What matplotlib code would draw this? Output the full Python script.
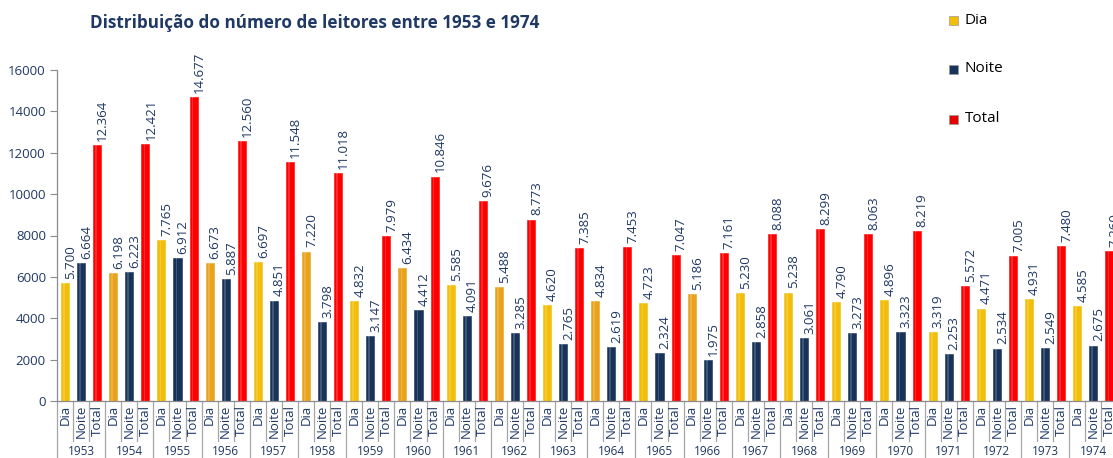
import matplotlib
matplotlib.use("Agg")
import matplotlib.pyplot as plt
from matplotlib.patches import Rectangle
import numpy as np

years = [str(y) for y in range(1953, 1975)]
series_names = ["Dia", "Noite", "Total"]
dia = [5700, 6198, 7765, 6673, 6697, 7220, 4832, 6434, 5585, 5488, 4620,
       4834, 4723, 5186, 5230, 5238, 4790, 4896, 3319, 4471, 4931, 4585]
noite = [6664, 6223, 6912, 5887, 4851, 3798, 3147, 4412, 4091, 3285, 2765,
         2619, 2324, 1975, 2858, 3061, 3273, 3323, 2253, 2534, 2549, 2675]
total = [12364, 12421, 14677, 12560, 11548, 11018, 7979, 10846, 9676, 8773, 7385,
         7453, 7047, 7161, 8088, 8299, 8063, 8219, 5572, 7005, 7480, 7260]
title = "Distribuição do número de leitores entre 1953 e 1974"
yticks = [0, 2000, 4000, 6000, 8000, 10000, 12000, 14000, 16000]

FONT = "Open Sans"
NAVY = "#1F3864"
C_DIA = "#F2BE0A"
C_DIA2 = "#E8A21C"
C_NOITE = "#17335A"
C_TOTAL = "#FF0000"

W, H = 1113, 458
fig = plt.figure(figsize=(W / 100, H / 100), dpi=100)
ax_left, ax_bottom = 57 / W, 1 - 401 / H
ax_w, ax_h = 22 * 48.2 / W, 331 / H
ax = fig.add_axes([ax_left, ax_bottom, ax_w, ax_h])

n = len(years)
bw = 0.5
series = [dia, noite, total]
for gi in range(n):
    for si, vals in enumerate(series):
        x = gi * 3 + si + 0.5
        if si == 0:
            col = C_DIA2 if (gi % 2 == 1 and gi <= 13) else C_DIA
        elif si == 1:
            col = C_NOITE
        else:
            col = C_TOTAL
        ax.bar(x, vals[gi], width=bw, color=col, edgecolor=col,
               linewidth=0.4, zorder=2)
        # subtle highlight stripe for 3D look
        ax.bar(x - bw * 0.12, vals[gi], width=bw * 0.22,
               color="white", alpha=0.18, linewidth=0, zorder=3)
        ax.annotate(f"{vals[gi] / 1000:.3f}", xy=(x, vals[gi]), xytext=(4, 3),
                    textcoords="offset points", rotation=90, ha="center", va="bottom",
                    fontsize=9.5, color=NAVY, family=FONT, zorder=4,
                    annotation_clip=False)

ax.set_xlim(0, n * 3)
ax.set_ylim(0, 16000)
ax.set_yticks(yticks)
ax.set_yticklabels([str(v) for v in yticks], fontsize=9.5, color=NAVY, family=FONT)
ax.tick_params(axis="y", length=5, color="#8C8C8C", pad=3)
ax.set_xticks([])
for s in ["top", "right"]:
    ax.spines[s].set_visible(False)
for s in ["left", "bottom"]:
    ax.spines[s].set_color("#8C8C8C")
    ax.spines[s].set_linewidth(0.9)

trans = ax.get_xaxis_transform()
# category labels
for gi in range(n):
    for si, nm in enumerate(series_names):
        x = gi * 3 + si + 0.5
        ax.text(x, -0.012, nm, rotation=90, ha="center", va="top", transform=trans,
                fontsize=9.5, color=NAVY, family=FONT, clip_on=False)
    ax.text(gi * 3 + 1.5, -0.152, years[gi], ha="center", va="center", transform=trans,
            fontsize=8.5, color=NAVY, family=FONT, clip_on=False)

# separators
inner_len = 40 / 331
full_len = 57 / 331
for gi in range(n + 1):
    for si in range(3):
        x = gi * 3 + si
        if si == 0:
            ax.plot([x, x], [0, -full_len], transform=trans, color="#A6A6A6",
                    lw=0.9, clip_on=False, zorder=1)
        elif gi < n:
            ax.plot([x, x], [0, -inner_len], transform=trans, color="#A6A6A6",
                    lw=0.9, clip_on=False, zorder=1)

# title
fig.text(90 / W, 1 - 23 / H, title, ha="left", va="center", fontsize=12.3,
         fontweight="bold", color=NAVY, family=FONT)

# legend
leg_cols = [C_DIA, C_NOITE, "#E00000"]
leg_y = [20, 69, 119]
for nm, c, yy in zip(series_names, leg_cols, leg_y):
    fig.patches.append(Rectangle((949 / W, 1 - (yy + 5) / H), 9 / W, 9 / H,
                                 transform=fig.transFigure, facecolor=c,
                                 edgecolor="#9A9A9A", linewidth=0.5))
    fig.text(965 / W, 1 - yy / H, nm, ha="left", va="center", fontsize=11,
             color="black", family=FONT)

fig.savefig("out.png", dpi=100)
